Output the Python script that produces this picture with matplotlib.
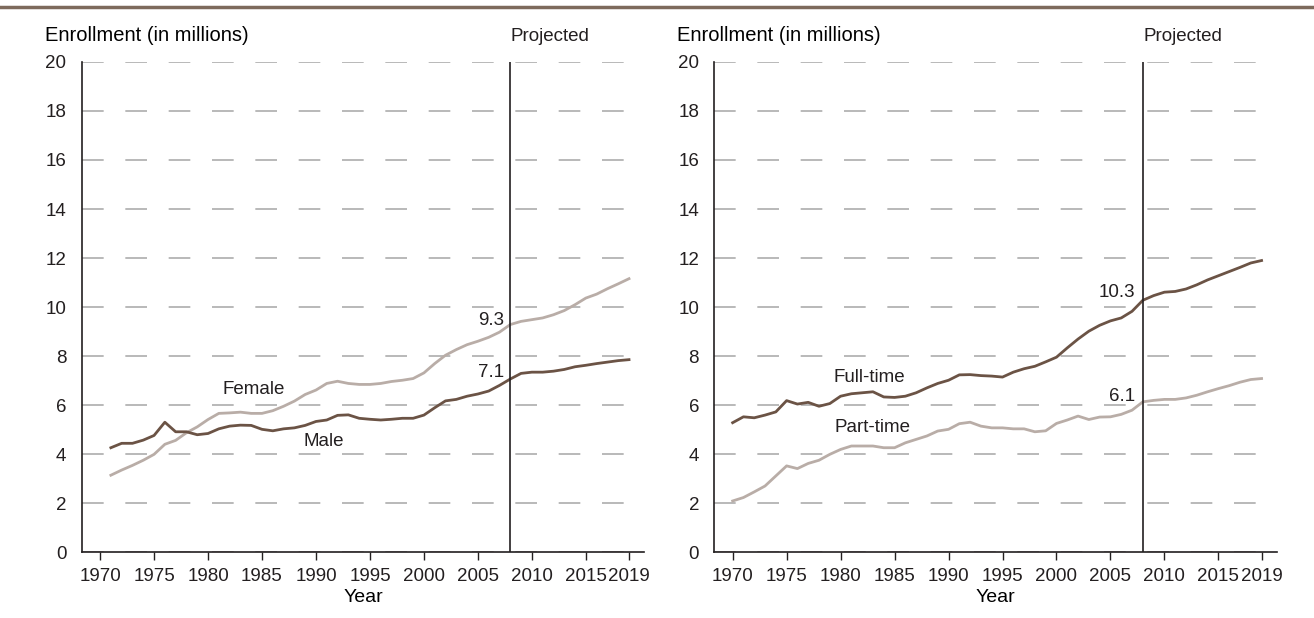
import numpy as np
import matplotlib.pyplot as plt
from matplotlib.lines import Line2D

plt.rcParams['font.family'] = ['Liberation Sans', 'DejaVu Sans']
plt.rcParams['lines.scale_dashes'] = False

# enrollment by sex, fall 1971 - 2019 (millions), 2009+ projected
sex_years = np.arange(1971, 2020)
female = [3.15, 3.36, 3.55, 3.76, 4.00, 4.41, 4.57, 4.88, 5.12, 5.42,
          5.67, 5.69, 5.72, 5.67, 5.67, 5.78, 5.96, 6.17, 6.44, 6.62,
          6.89, 6.98, 6.89, 6.85, 6.85, 6.89, 6.97, 7.02, 7.09, 7.32,
          7.70, 8.04, 8.27, 8.47, 8.61, 8.77, 8.98, 9.29, 9.42, 9.49,
          9.56, 9.69, 9.86, 10.10, 10.37, 10.53, 10.75, 10.95, 11.16]
male = [4.27, 4.45, 4.45, 4.58, 4.77, 5.31, 4.92, 4.92, 4.80, 4.85,
        5.04, 5.15, 5.19, 5.18, 5.02, 4.96, 5.04, 5.08, 5.18, 5.34,
        5.40, 5.59, 5.61, 5.47, 5.43, 5.40, 5.43, 5.47, 5.47, 5.60,
        5.90, 6.18, 6.24, 6.37, 6.46, 6.58, 6.81, 7.07, 7.30, 7.35,
        7.35, 7.39, 7.46, 7.57, 7.63, 7.70, 7.76, 7.82, 7.86]

# enrollment by attendance status, fall 1970 - 2019
att_years = np.arange(1970, 2020)
full_time = [5.29, 5.53, 5.49, 5.60, 5.73, 6.19, 6.05, 6.12, 5.96, 6.07,
             6.37, 6.47, 6.51, 6.55, 6.34, 6.32, 6.37, 6.51, 6.71, 6.89,
             7.02, 7.24, 7.25, 7.21, 7.19, 7.15, 7.35, 7.49, 7.59, 7.77,
             7.96, 8.34, 8.70, 9.02, 9.26, 9.44, 9.56, 9.83, 10.28, 10.47,
             10.61, 10.64, 10.74, 10.91, 11.11, 11.28, 11.45, 11.62, 11.80, 11.90]
part_time = [2.10, 2.24, 2.47, 2.71, 3.12, 3.53, 3.42, 3.63, 3.76, 4.00,
             4.20, 4.34, 4.34, 4.34, 4.27, 4.27, 4.47, 4.61, 4.75, 4.95,
             5.02, 5.25, 5.31, 5.15, 5.08, 5.08, 5.04, 5.04, 4.92, 4.96,
             5.26, 5.40, 5.56, 5.42, 5.52, 5.53, 5.63, 5.80, 6.14, 6.20,
             6.24, 6.24, 6.30, 6.41, 6.55, 6.68, 6.80, 6.94, 7.05, 7.09]

xticks = [1970, 1975, 1980, 1985, 1990, 1995, 2000, 2005, 2010, 2015, 2019]
proj_year = 2008

dark = '#6b5345'
light = '#b9ada7'
txt = '#231f20'
fs = 13.5

fig = plt.figure(figsize=(13.14, 6.18), dpi=100)
ax1 = fig.add_axes([0.0622, 0.106, 0.428, 0.794])
ax2 = fig.add_axes([0.5436, 0.106, 0.428, 0.794])

# brown rule across the top
fig.add_artist(Line2D([0, 1], [0.988, 0.988], transform=fig.transFigure,
                      color='#7d6a5c', lw=2.5))


def setup(ax):
    ax.set_xlim(1968.3, 2020.4)
    ax.set_ylim(0, 20)
    ax.set_yticks(np.arange(0, 21, 2))
    ax.set_xticks(xticks)
    for s in ['top', 'right']:
        ax.spines[s].set_visible(False)
    for s in ['left', 'bottom']:
        ax.spines[s].set_color(txt)
        ax.spines[s].set_linewidth(1.2)
        ax.spines[s].set_zorder(5)
    ax.tick_params(axis='y', length=0, pad=11, labelsize=fs, labelcolor=txt)
    ax.tick_params(axis='x', length=6, width=1, color=txt, pad=5,
                   labelsize=fs, labelcolor=txt)
    ax.set_axisbelow(True)
    ax.grid(axis='y', color='#b3b3b3', lw=1.3, linestyle=(0, (15.6, 15.6)))
    ax.axvline(proj_year, color=txt, lw=1.2, zorder=4)
    ax.text(proj_year + 0.05, 20.85, 'Projected', ha='left', va='baseline',
            fontsize=fs, color=txt)
    ax.text(-0.0658, 20.85, 'Enrollment (in millions)', ha='left', va='baseline',
            fontsize=14.5, color='black',
            transform=ax.get_yaxis_transform())
    ax.set_xlabel('Year', fontsize=14, color='black', labelpad=3)


setup(ax1)
ax1.plot(sex_years, female, color=light, lw=2, zorder=3)
ax1.plot(sex_years, male, color=dark, lw=2, zorder=3)
ax1.text(1984.2, 6.64, 'Female', ha='center', va='center', fontsize=fs, color=txt)
ax1.text(1990.7, 4.54, 'Male', ha='center', va='center', fontsize=fs, color=txt)
ax1.text(2007.45, 9.46, '9.3', ha='right', va='center', fontsize=fs, color=txt)
ax1.text(2007.45, 7.32, '7.1', ha='right', va='center', fontsize=fs, color=txt)

setup(ax2)
ax2.plot(att_years, part_time, color=light, lw=2, zorder=3)
ax2.plot(att_years, full_time, color=dark, lw=2, zorder=3)
ax2.text(1982.7, 7.12, 'Full-time', ha='center', va='center', fontsize=fs, color=txt)
ax2.text(1983.0, 5.11, 'Part-time', ha='center', va='center', fontsize=fs, color=txt)
ax2.text(2007.3, 10.58, '10.3', ha='right', va='center', fontsize=fs, color=txt)
ax2.text(2007.3, 6.37, '6.1', ha='right', va='center', fontsize=fs, color=txt)

fig.savefig('out.png', dpi=100)
